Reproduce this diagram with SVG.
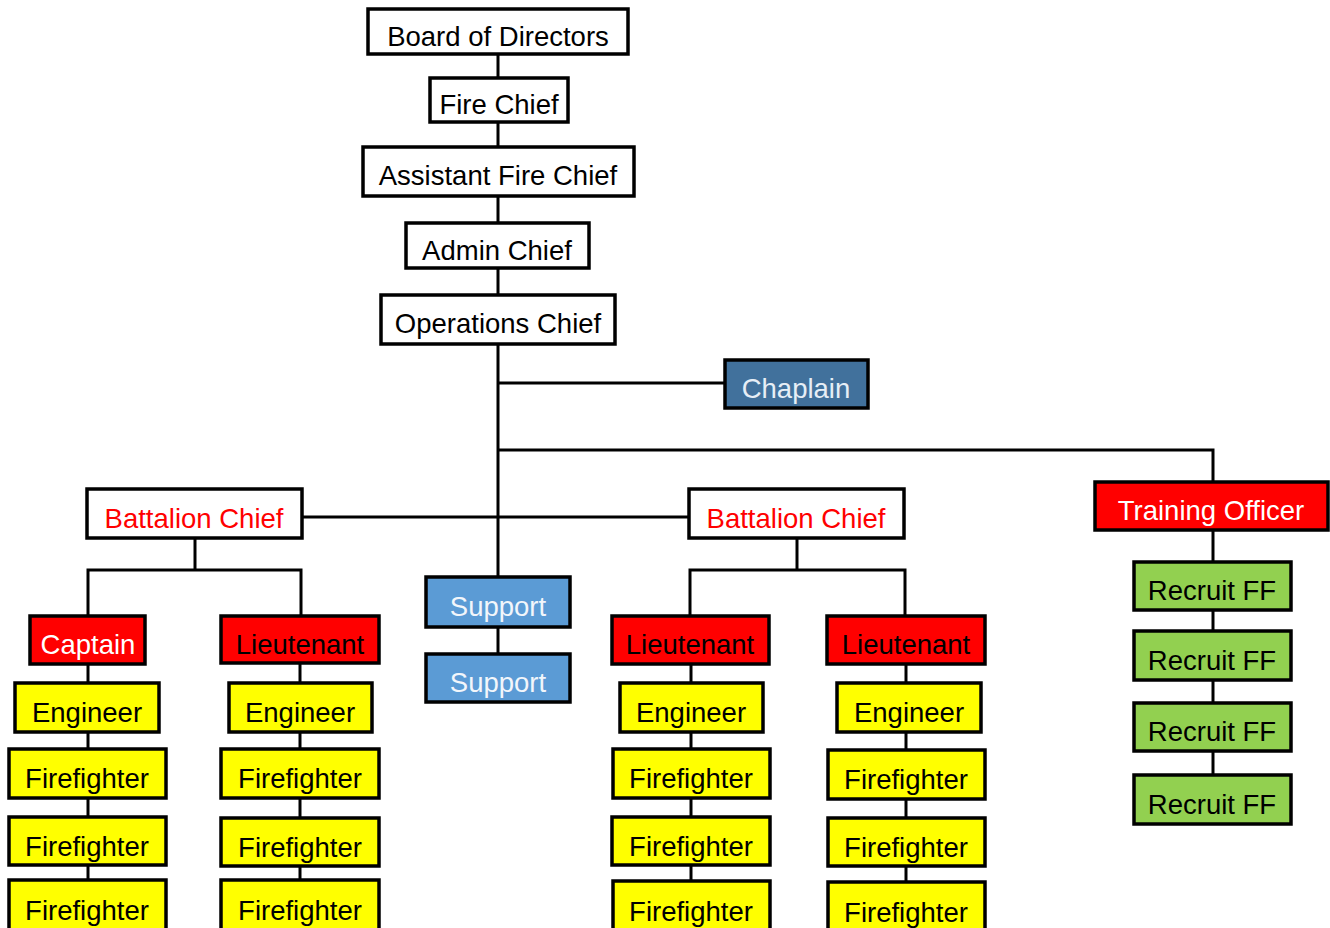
<svg xmlns="http://www.w3.org/2000/svg" width="1330" height="928" viewBox="0 0 1330 928">
<style>
  rect{stroke:#000;stroke-width:3.5}
  text{font-family:"Liberation Sans",Arial,sans-serif;font-size:27.5px;text-anchor:middle}
  .w rect{fill:#fff}
  .w text{fill:#000}
  .bc rect{fill:#fff}
  .bc text{fill:#ff0000}
  .red rect{fill:#ff0000}
  .redw text{fill:#fff}
  .redb text{fill:#000}
  .y rect{fill:#ffff00}
  .y text{fill:#000}
  .g rect{fill:#92d050}
  .g text{fill:#000}
  .s rect{fill:#5b9bd5}
  .s text{fill:#f2f6fb}
  .c rect{fill:#41719c}
  .c text{fill:#e6eef6}
  .conn path{fill:none;stroke:#000;stroke-width:3}
</style>
<g class="conn" id="connectors">
  <path d="M498,54V577"/>
  <path d="M498,627V654"/>
  <path d="M498,383H725"/>
  <path d="M498,450H1213V482"/>
  <path d="M302,517H689"/>
  <path d="M195,538V570"/>
  <path d="M88,616V570H301V616"/>
  <path d="M88,664V880"/>
  <path d="M300,663V880"/>
  <path d="M797,538V570"/>
  <path d="M690,616V570H905V616"/>
  <path d="M691,664V881"/>
  <path d="M906,664V882"/>
  <path d="M1213,530V775"/>
</g>
<g id="board" class="w"><rect x="368" y="9" width="260" height="45"/><text x="498" y="46">Board of Directors</text></g>
<g id="firechief" class="w"><rect x="430" y="78" width="138" height="44"/><text x="499" y="114">Fire Chief</text></g>
<g id="assistant" class="w"><rect x="363" y="147" width="271" height="49"/><text x="498" y="185">Assistant Fire Chief</text></g>
<g id="admin" class="w"><rect x="406" y="223" width="183" height="45"/><text x="497" y="260">Admin Chief</text></g>
<g id="operations" class="w"><rect x="381" y="295" width="234" height="49"/><text x="498" y="333">Operations Chief</text></g>
<g id="chaplain" class="c"><rect x="725" y="360" width="143" height="48"/><text x="796" y="398">Chaplain</text></g>
<g id="training" class="red redw"><rect x="1095" y="482" width="233" height="48"/><text x="1211" y="520">Training Officer</text></g>
<g id="bc1" class="bc"><rect x="87" y="489" width="215" height="49"/><text x="194" y="528">Battalion Chief</text></g>
<g id="bc2" class="bc"><rect x="689" y="489" width="215" height="49"/><text x="796" y="528">Battalion Chief</text></g>
<g id="support1" class="s"><rect x="426" y="577" width="144" height="50"/><text x="498" y="616">Support</text></g>
<g id="support2" class="s"><rect x="426" y="654" width="144" height="48"/><text x="498" y="692">Support</text></g>
<g id="captain" class="red redw"><rect x="30" y="616" width="115" height="48"/><text x="88" y="654">Captain</text></g>
<g id="lt1" class="red redb"><rect x="221" y="616" width="158" height="47"/><text x="300" y="654">Lieutenant</text></g>
<g id="lt2" class="red redb"><rect x="612" y="616" width="157" height="48"/><text x="690" y="654">Lieutenant</text></g>
<g id="lt3" class="red redb"><rect x="827" y="616" width="158" height="48"/><text x="906" y="654">Lieutenant</text></g>
<g id="eng1" class="y"><rect x="15" y="683" width="144" height="49"/><text x="87" y="722">Engineer</text></g>
<g id="eng2" class="y"><rect x="229" y="683" width="143" height="49"/><text x="300" y="722">Engineer</text></g>
<g id="eng3" class="y"><rect x="620" y="683" width="143" height="49"/><text x="691" y="722">Engineer</text></g>
<g id="eng4" class="y"><rect x="837" y="683" width="144" height="49"/><text x="909" y="722">Engineer</text></g>
<g id="ff1a" class="y"><rect x="9" y="749" width="157" height="49"/><text x="87" y="788">Firefighter</text></g>
<g id="ff1b" class="y"><rect x="9" y="817" width="157" height="48"/><text x="87" y="856">Firefighter</text></g>
<g id="ff1c" class="y"><rect x="9" y="880" width="157" height="50"/><text x="87" y="920">Firefighter</text></g>
<g id="ff2a" class="y"><rect x="221" y="749" width="158" height="49"/><text x="300" y="788">Firefighter</text></g>
<g id="ff2b" class="y"><rect x="221" y="818" width="158" height="48"/><text x="300" y="857">Firefighter</text></g>
<g id="ff2c" class="y"><rect x="221" y="880" width="158" height="50"/><text x="300" y="920">Firefighter</text></g>
<g id="ff3a" class="y"><rect x="613" y="749" width="157" height="49"/><text x="691" y="788">Firefighter</text></g>
<g id="ff3b" class="y"><rect x="612" y="817" width="158" height="48"/><text x="691" y="856">Firefighter</text></g>
<g id="ff3c" class="y"><rect x="613" y="881" width="157" height="50"/><text x="691" y="921">Firefighter</text></g>
<g id="ff4a" class="y"><rect x="828" y="750" width="157" height="49"/><text x="906" y="789">Firefighter</text></g>
<g id="ff4b" class="y"><rect x="828" y="818" width="157" height="48"/><text x="906" y="857">Firefighter</text></g>
<g id="ff4c" class="y"><rect x="828" y="882" width="157" height="50"/><text x="906" y="922">Firefighter</text></g>
<g id="rec1" class="g"><rect x="1134" y="562" width="157" height="48"/><text x="1212" y="600">Recruit FF</text></g>
<g id="rec2" class="g"><rect x="1134" y="631" width="157" height="49"/><text x="1212" y="670">Recruit FF</text></g>
<g id="rec3" class="g"><rect x="1134" y="703" width="157" height="48"/><text x="1212" y="741">Recruit FF</text></g>
<g id="rec4" class="g"><rect x="1134" y="775" width="157" height="49"/><text x="1212" y="814">Recruit FF</text></g>
</svg>
